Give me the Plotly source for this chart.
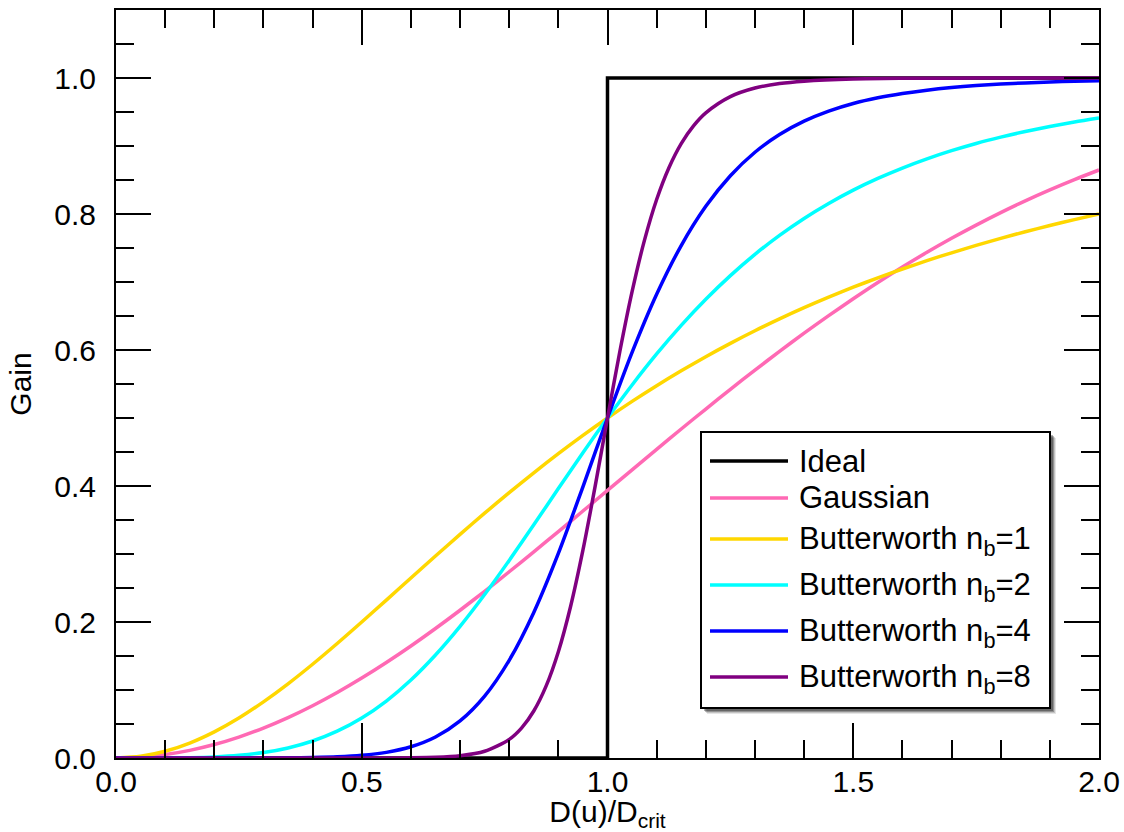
import plotly.graph_objects as go

# ---------------- data ----------------
x_grid = [0.0, 0.05, 0.1, 0.15, 0.2, 0.25, 0.3, 0.35, 0.4, 0.45, 0.5, 0.55, 0.6, 0.65,
          0.7, 0.75, 0.8, 0.85, 0.9, 0.95, 1.0, 1.05, 1.1, 1.15, 1.2, 1.25, 1.3, 1.35,
          1.4, 1.45, 1.5, 1.55, 1.6, 1.65, 1.7, 1.75, 1.8, 1.85, 1.9, 1.95, 2.0]

gaussian = [0.0, 0.0012, 0.005, 0.0112, 0.0198, 0.0308, 0.044, 0.0594, 0.0769, 0.0963,
            0.1175, 0.1404, 0.1647, 0.1904, 0.2173, 0.2452, 0.2739, 0.3032, 0.333, 0.3632,
            0.3935, 0.4238, 0.4539, 0.4838, 0.5132, 0.5422, 0.5704, 0.598, 0.6247, 0.6505,
            0.6753, 0.6992, 0.722, 0.7437, 0.7643, 0.7837, 0.8021, 0.8194, 0.8355, 0.8506, 0.8647]

butter1 = [0.0, 0.0025, 0.0099, 0.022, 0.0385, 0.0588, 0.0826, 0.1091, 0.1379, 0.1684,
           0.2, 0.2322, 0.2647, 0.297, 0.3289, 0.36, 0.3902, 0.4194, 0.4475, 0.4744,
           0.5, 0.5244, 0.5475, 0.5694, 0.5902, 0.6098, 0.6283, 0.6457, 0.6622, 0.6777,
           0.6923, 0.7061, 0.7191, 0.7314, 0.7429, 0.7538, 0.7642, 0.7739, 0.7831, 0.7918, 0.8]

butter2 = [0.0, 0.0, 0.0001, 0.0005, 0.0016, 0.0039, 0.008, 0.0148, 0.025, 0.0394,
           0.0588, 0.0838, 0.1147, 0.1515, 0.1936, 0.2404, 0.2906, 0.343, 0.3962, 0.4489,
           0.5, 0.5486, 0.5942, 0.6362, 0.6746, 0.7094, 0.7407, 0.7686, 0.7935, 0.8155,
           0.8351, 0.8523, 0.8676, 0.8811, 0.8931, 0.9037, 0.913, 0.9213, 0.9287, 0.9353, 0.9412]

butter4 = [0.0, 0.0, 0.0, 0.0, 0.0, 0.0, 0.0001, 0.0002, 0.0007, 0.0017,
           0.0039, 0.0083, 0.0165, 0.0309, 0.0545, 0.091, 0.1437, 0.2141, 0.3009, 0.3988,
           0.5, 0.5964, 0.6819, 0.7536, 0.8113, 0.8563, 0.8908, 0.9169, 0.9365, 0.9513,
           0.9625, 0.9709, 0.9772, 0.9821, 0.9859, 0.9888, 0.991, 0.9928, 0.9941, 0.9952, 0.9961]

x_butter8 = [0.0, 0.1, 0.2, 0.3, 0.4, 0.5, 0.55, 0.6, 0.65, 0.7, 0.75, 0.8, 0.825, 0.85,
             0.875, 0.9, 0.925, 0.95, 0.975, 1.0, 1.025, 1.05, 1.075, 1.1, 1.125, 1.15,
             1.175, 1.2, 1.25, 1.3, 1.35, 1.4, 1.5, 1.6, 1.7, 1.8, 1.9, 2.0]
butter8 = [0.0, 0.0, 0.0, 0.0, 0.0, 0.0, 0.0001, 0.0003, 0.001, 0.0033, 0.0099, 0.0274,
           0.044, 0.0691, 0.1056, 0.1563, 0.2232, 0.3056, 0.4001, 0.5, 0.5975, 0.6858,
           0.7608, 0.8213, 0.8681, 0.9035, 0.9296, 0.9487, 0.9726, 0.9852, 0.9919, 0.9954,
           0.9985, 0.9995, 0.9998, 0.9999, 1.0, 1.0]

ideal_x = [0.0, 1.0, 1.0, 2.0]
ideal_y = [0.0, 0.0, 1.0, 1.0]

series_names = ["Ideal", "Gaussian", "Butterworth n<sub>b</sub>=1", "Butterworth n<sub>b</sub>=2",
                "Butterworth n<sub>b</sub>=4", "Butterworth n<sub>b</sub>=8"]
series_colors = ["#000000", "#FF69B4", "#FFD700", "#00FFFF", "#0000FF", "#800080"]

x_ticks = [0.0, 0.5, 1.0, 1.5, 2.0]
x_ticklabels = ["0.0", "0.5", "1.0", "1.5", "2.0"]
y_ticks = [0.0, 0.2, 0.4, 0.6, 0.8, 1.0]
y_ticklabels = ["0.0", "0.2", "0.4", "0.6", "0.8", "1.0"]

# ---------------- figure ----------------
FONT = "Liberation Sans, Arial, Helvetica, sans-serif"
W, H = 1124, 832
L, R, T, B = 116, 1099, 10, 758

fig = go.Figure()
traces = [
    (ideal_x, ideal_y, "linear"),
    (x_grid, gaussian, "spline"),
    (x_grid, butter1, "spline"),
    (x_grid, butter2, "spline"),
    (x_grid, butter4, "spline"),
    (x_butter8, butter8, "spline"),
]
for (xs, ys, shape), name, col in zip(traces, series_names, series_colors):
    fig.add_trace(go.Scatter(
        x=xs, y=ys, mode="lines", name=name, showlegend=False,
        line=dict(color=col, width=3.5, shape=shape,
                  smoothing=0.8 if shape == "spline" else None),
    ))

def pxx(v):
    return (v - L) / (R - L)

def pxy(v):
    return (B - v) / (B - T)

shapes = []
annotations = []

# custom legend box with drop shadow
lx0, ly0, lx1, ly1 = 701, 432, 1050, 708
for off, op in [(6, 0.10), (5, 0.15), (4, 0.25), (3, 0.3)]:
    shapes.append(dict(type="rect", xref="paper", yref="paper",
                       x0=pxx(lx0 + off), x1=pxx(lx1 + off), y0=pxy(ly1 + off), y1=pxy(ly0 + off),
                       fillcolor="rgba(0,0,0,%s)" % op, line=dict(width=0), layer="above"))
shapes.append(dict(type="rect", xref="paper", yref="paper",
                   x0=pxx(lx0), x1=pxx(lx1), y0=pxy(ly1), y1=pxy(ly0),
                   fillcolor="white", line=dict(color="black", width=2), layer="above"))

row_y = [461, 498, 539, 585, 631, 677]
for yy, name, col in zip(row_y, series_names, series_colors):
    shapes.append(dict(type="line", xref="paper", yref="paper",
                       x0=pxx(710), x1=pxx(788), y0=pxy(yy), y1=pxy(yy),
                       line=dict(color=col, width=3.5), layer="above"))
    annotations.append(dict(xref="paper", yref="paper", x=pxx(797), y=pxy(yy),
                            xanchor="left", yanchor="middle", showarrow=False,
                            text=name, font=dict(family=FONT, size=31, color="black"),
                            yshift=-2 if "sub" in name else 0))

axis_common = dict(
    showline=True, linecolor="black", linewidth=2, mirror="ticks",
    ticks="inside", ticklen=35, tickwidth=2, tickcolor="black",
    showgrid=False, zeroline=False, automargin=False,
    tickfont=dict(family=FONT, size=30, color="black"),
)

fig.update_layout(
    width=W, height=H,
    margin=dict(l=L, r=W - R, t=T, b=H - B, autoexpand=False),
    paper_bgcolor="white", plot_bgcolor="white",
    font=dict(family=FONT, size=30, color="black"),
    shapes=shapes, annotations=annotations,
    xaxis=dict(axis_common, range=[0, 2], tickvals=x_ticks, ticktext=x_ticklabels,
               minor=dict(dtick=0.1, tick0=0, ticks="inside", ticklen=18, tickwidth=2, tickcolor="black"),
               ticklabelstandoff=-4,
               title=dict(text="D(u)/D<sub>crit</sub>", font=dict(family=FONT, size=30), standoff=9)),
    yaxis=dict(axis_common, range=[0, 1.1], tickvals=y_ticks, ticktext=y_ticklabels,
               minor=dict(dtick=0.05, tick0=0, ticks="inside", ticklen=18, tickwidth=2, tickcolor="black"),
               ticklabelstandoff=12,
               title=dict(text="Gain", font=dict(family=FONT, size=30), standoff=14)),
)

fig.write_html("out.html")
